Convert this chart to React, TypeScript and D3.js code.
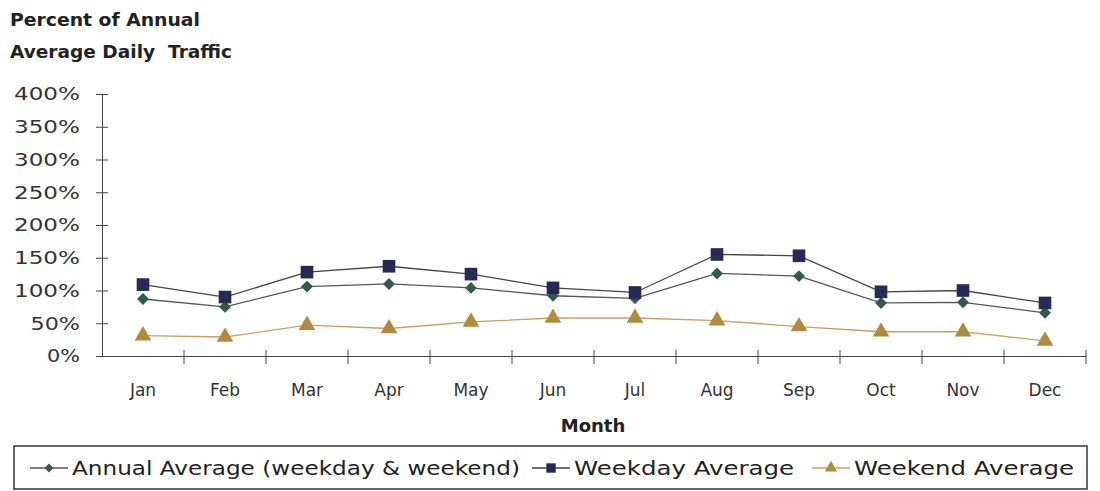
import { useEffect, useRef } from "react";
import * as d3 from "d3";

const months = ["Jan", "Feb", "Mar", "Apr", "May", "Jun", "Jul", "Aug", "Sep", "Oct", "Nov", "Dec"];
const annualAvg = [87, 75, 106, 110, 104, 92, 88, 126, 122, 81, 82, 66];
const weekdayAvg = [109, 90, 128, 137, 125, 104, 97, 155, 153, 98, 100, 81];
const weekendAvg = [31, 29, 47, 42, 52, 58, 58, 54, 45, 37, 37, 23];
const yTicks = [0, 50, 100, 150, 200, 250, 300, 350, 400];

const FONT = "'DejaVu Sans', sans-serif";
const W = 1100;
const H = 491;

export default function App() {
  const ref = useRef<SVGSVGElement>(null);

  useEffect(() => {
    const svg = d3.select(ref.current);
    svg.selectAll("*").remove();

    const left = 102, right = 1086, top = 94, bottom = 356;

    const x = d3.scaleBand().domain(months).range([left, right]);
    const y = d3.scaleLinear().domain([0, 400]).range([bottom, top]);

    svg.append("rect").attr("width", W).attr("height", H).attr("fill", "#fff");

    // title
    const title = svg.append("text")
      .attr("font-family", FONT).attr("font-weight", "bold").attr("font-size", 17)
      .attr("fill", "#222");
    title.append("tspan").attr("x", 10).attr("y", 26).attr("textLength", 190).attr("lengthAdjust", "spacingAndGlyphs").text("Percent of Annual");
    title.append("tspan").attr("x", 10).attr("y", 58).attr("textLength", 222).attr("lengthAdjust", "spacingAndGlyphs").text("Average Daily\u00a0 Traffic");

    // y axis
    const yAxis = svg.append("g")
      .attr("transform", `translate(${left},0)`)
      .call(d3.axisLeft(y).tickValues(yTicks).tickFormat((d) => d + "%").tickSize(0).tickPadding(22));
    yAxis.select(".domain").attr("stroke", "#444");
    yAxis.selectAll<SVGTextElement, number>(".tick text")
      .attr("font-family", FONT).attr("font-size", 18).attr("fill", "#333")
      .attr("textLength", (d) => (String(d).length + 1) * 16.5)
      .attr("lengthAdjust", "spacingAndGlyphs");
    yAxis.selectAll(".tick").append("line")
      .attr("x1", -6).attr("x2", 6).attr("stroke", "#444");

    // x axis
    const xAxis = svg.append("g")
      .attr("transform", `translate(0,${bottom})`)
      .call(d3.axisBottom(x).tickSize(0).tickPadding(28));
    xAxis.select(".domain").attr("stroke", "#444");
    xAxis.selectAll(".tick text").attr("font-family", FONT).attr("font-size", 17).attr("fill", "#333");
    const bw = x.bandwidth();
    svg.append("g").selectAll("line")
      .data(months)
      .join("line")
      .attr("x1", (d) => (x(d) ?? 0) + bw)
      .attr("x2", (d) => (x(d) ?? 0) + bw)
      .attr("y1", bottom - 6).attr("y2", bottom + 8)
      .attr("stroke", "#444");

    svg.append("text")
      .attr("x", 593).attr("y", 432)
      .attr("text-anchor", "middle")
      .attr("font-family", FONT).attr("font-weight", "bold").attr("font-size", 18)
      .attr("fill", "#222")
      .text("Month");

    const cx = (m: string) => (x(m) ?? 0) + bw / 2;
    const line = d3.line<number>().x((_, i) => cx(months[i])).y((d) => y(d));

    const series = [
      { name: "Annual Average (weekday & weekend)", values: annualAvg, color: "#2f5b4b", line: "#555", shape: d3.symbolDiamond2, size: 90, tl: 448 },
      { name: "Weekday Average", values: weekdayAvg, color: "#262a54", line: "#444", shape: d3.symbolSquare, size: 160, tl: 220 },
      { name: "Weekend Average", values: weekendAvg, color: "#b08a3e", line: "#c8a060", shape: d3.symbolTriangle, size: 120, tl: 220 },
    ];

    const plot = svg.append("g");
    series.forEach((s) => {
      plot.append("path")
        .attr("d", line(s.values) ?? "")
        .attr("fill", "none")
        .attr("stroke", s.line)
        .attr("stroke-width", 1.3);
      plot.append("g").selectAll("path")
        .data(s.values)
        .join("path")
        .attr("transform", (d, i) => `translate(${cx(months[i])},${y(d)})`)
        .attr("d", d3.symbol().type(s.shape).size(s.size)() ?? "")
        .attr("fill", s.color);
    });

    // legend
    svg.append("rect")
      .attr("x", 14).attr("y", 446).attr("width", 1073).attr("height", 43)
      .attr("fill", "none").attr("stroke", "#333").attr("stroke-width", 1.5);
    const legendX = [30, 532, 812];
    series.forEach((s, i) => {
      const g = svg.append("g").attr("transform", `translate(${legendX[i]},468)`);
      g.append("line").attr("x1", 0).attr("x2", 38).attr("stroke", s.line).attr("stroke-width", 1.3);
      g.append("path")
        .attr("transform", "translate(19,0)")
        .attr("d", d3.symbol().type(s.shape).size(s.size * 0.55)() ?? "")
        .attr("fill", s.color);
      g.append("text")
        .attr("x", 42).attr("y", 7)
        .attr("font-family", FONT).attr("font-size", 19).attr("fill", "#222")
        .attr("textLength", s.tl).attr("lengthAdjust", "spacingAndGlyphs")
        .text(s.name);
    });
  }, []);

  return (
    <svg
      ref={ref}
      width={W}
      height={H}
      style={{ position: "absolute", left: 0, top: 0 }}
    />
  );
}
